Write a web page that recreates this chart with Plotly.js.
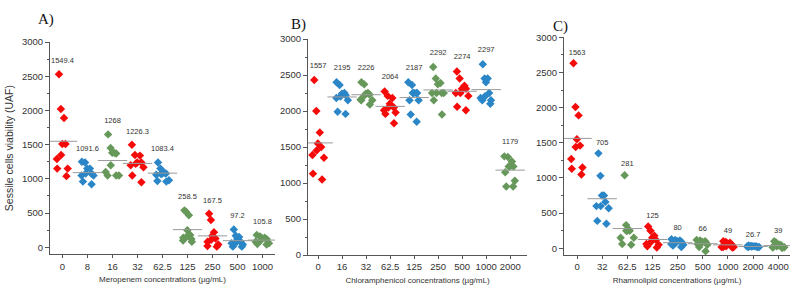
<!DOCTYPE html>
<html><head><meta charset="utf-8">
<script src="https://cdn.plot.ly/plotly-3.0.1.min.js"></script>
<style>html,body{margin:0;padding:0;background:#fff}#chart{width:798px;height:289px}</style>
</head><body><div id="chart"></div>
<script>
// ---- Panel A: Meropenem ----
const meroCats = ["0","8","16","32","62.5","125","250","500","1000"];
const meroMeans = [1549.4,1091.6,1268,1226.3,1083.4,258.5,167.5,97.2,105.8];
const meroLabels = ["1549.4","1091.6","1268","1226.3","1083.4","258.5","167.5","97.2","105.8"];
const meroValues = [
  [2530,2020,1890,1510,1510,1350,1290,1150,1150,1040],
  [1250,1240,1150,1150,1080,1080,1050,1050,960,920],
  [1650,1450,1380,1370,1380,1200,1100,1050,1050,1050],
  [1500,1350,1340,1240,1240,1220,1200,1170,1050,950],
  [1240,1150,1090,1080,1080,1070,1060,980,970,960],
  [540,520,470,250,180,150,140,120,100,80],
  [490,400,220,170,130,110,80,40,20,10],
  [260,170,150,120,80,70,60,40,10,10],
  [180,160,140,130,120,100,80,60,50,40]
];
// ---- Panel B: Chloramphenicol ----
const chloCats = ["0","16","32","62.5","125","250","500","1000","2000"];
const chloMeans = [1557,2195,2226,2064,2187,2292,2274,2297,1179];
const chloLabels = ["1557","2195","2226","2064","2187","2292","2274","2297","1179"];
const chloValues = [
  [2430,2000,1700,1550,1500,1450,1390,1350,1130,1050],
  [2400,2360,2250,2240,2220,2200,2180,2150,1990,1960],
  [2400,2370,2250,2240,2230,2220,2160,2150,2150,2090],
  [2270,2210,2180,2100,2050,2050,2010,1980,1960,1830],
  [2400,2360,2250,2250,2250,2250,2150,2150,1950,1850],
  [2610,2450,2390,2370,2250,2250,2250,2250,2150,1950],
  [2550,2450,2350,2310,2310,2250,2250,2210,2060,2010],
  [2650,2450,2450,2400,2250,2200,2180,2150,2150,2100],
  [1370,1360,1300,1230,1230,1230,1150,1030,950,950]
];
// ---- Panel C: Rhamnolipid ----
const rhamCats = ["0","32","62.5","125","250","500","1000","2000","4000"];
const rhamMeans = [1563,705,281,125,80,66,49,26.7,39];
const rhamLabels = ["1563","705","281","125","80","66","49","26.7","39"];
const rhamValues = [
  [2630,2010,1890,1550,1460,1440,1270,1150,1130,1050],
  [1350,1030,750,750,660,600,600,570,390,350],
  [1040,330,270,250,250,250,150,150,60,50],
  [310,250,180,150,120,90,60,50,30,10],
  [130,120,110,100,90,80,60,50,40,20],
  [120,110,100,90,80,70,60,50,20,-40],
  [100,90,80,70,50,30,20,20,20,10],
  [40,35,30,30,25,25,25,20,20,17],
  [100,80,50,40,40,30,20,15,10,5]
];
const groupColors = ["#f50a0a","#2a86c6","#66985a"];

const FONT = "Liberation Sans, Arial, sans-serif";
const traces = [];
function addPanel(cats, values, means, labels, xa, ya, gap) {
  // mean lines
  traces.push({type:'scatter', mode:'markers', x:cats, y:means, xaxis:xa, yaxis:ya,
    marker:{symbol:'line-ew', size:21, color:'#999', line:{color:'#9a9a9a', width:1}},
    hoverinfo:'skip', showlegend:false});
  cats.forEach((c, i) => {
    const vals = values[i];
    traces.push({type:'box', x:vals.map(() => c), y:vals, xaxis:xa, yaxis:ya,
      boxpoints:'all', jitter:1, pointpos:0,
      fillcolor:'rgba(0,0,0,0)', line:{width:0, color:'rgba(0,0,0,0)'}, whiskerwidth:0,
      marker:{symbol:'diamond', size:6.5, color:groupColors[i % 3]},
      hoverinfo:'skip', showlegend:false});
  });
  traces.push({type:'scatter', mode:'text', x:cats,
    y:values.map(v => Math.max(...v) + gap), text:labels, xaxis:xa, yaxis:ya,
    textposition:'middle center', textfont:{family:FONT, size:7.5, color:'#333'},
    hoverinfo:'skip', showlegend:false, cliponaxis:false});
}
addPanel(meroCats, meroValues, meroMeans, meroLabels, 'x', 'y', 190);
addPanel(chloCats, chloValues, chloMeans, chloLabels, 'x2', 'y2', 200);
addPanel(rhamCats, rhamValues, rhamMeans, rhamLabels, 'x3', 'y3', 150);

const W = 798, H = 289;
const px = (a, b) => [a / W, b / W];
const py = (top, bottom) => [1 - bottom / H, 1 - top / H];

function yAxis(domain, range, anchor, title) {
  const ax = {domain:domain, range:range, anchor:anchor, showgrid:false, zeroline:false,
    showline:true, linecolor:'#555', linewidth:1, ticks:'outside', ticklen:4, tickcolor:'#555',
    tickfont:{family:FONT, size:9.5, color:'#333'}, tick0:0, dtick:500,
    minor:{ticks:'outside', ticklen:2, dtick:250, tick0:0, tickcolor:'#555'}};
  if (title) ax.title = {text:title, font:{family:FONT, size:10.5, color:'#333'}, standoff:6};
  return ax;
}
function xAxis(domain, range, anchor, cats, title) {
  return {domain:domain, range:range, anchor:anchor, type:'category', categoryorder:'array',
    categoryarray:cats, showgrid:false, zeroline:false, showline:true, linecolor:'#555',
    linewidth:1, ticks:'outside', ticklen:3, tickcolor:'#555',
    tickfont:{family:FONT, size:9.5, color:'#333'},
    title:{text:title, font:{family:FONT, size:8, color:'#333'}, standoff:5}};
}

const layout = {
  width:W, height:H, margin:{l:0, r:0, t:0, b:0}, paper_bgcolor:'#fff', plot_bgcolor:'#fff',
  boxmode:'overlay', boxgap:0.05, showlegend:false,
  xaxis: xAxis(px(50, 275), [-0.5, 8.5], 'y', meroCats, 'Meropenem concentrations (µg/mL)'),
  yaxis: yAxis(py(42, 254.3), [-102, 3000], 'x', 'Sessile cells viability (UAF)'),
  xaxis2: xAxis(px(308, 527), [-0.42, 8.7], 'y2', chloCats, 'Chloramphenicol concentrations (µg/mL)'),
  yaxis2: yAxis(py(39, 255), [0, 3000], 'x2', null),
  xaxis3: xAxis(px(564, 790), [-0.52, 8.47], 'y3', rhamCats, 'Rhamnolipid concentrations (µg/mL)'),
  yaxis3: yAxis(py(37.3, 255), [-95, 3000], 'x3', null),
  annotations: [
    {text:'A)', x:36/W, y:1 - 9/H, xref:'paper', yref:'paper', showarrow:false,
     font:{family:'Liberation Serif, Times New Roman, serif', size:15, color:'#111'}},
    {text:'B)', x:298/W, y:1 - 14/H, xref:'paper', yref:'paper', showarrow:false,
     font:{family:'Liberation Serif, Times New Roman, serif', size:15, color:'#111'}},
    {text:'C)', x:570/W, y:1 - 16/H, xref:'paper', yref:'paper', showarrow:false,
     font:{family:'Liberation Serif, Times New Roman, serif', size:15, color:'#111'}}
  ]
};
Plotly.newPlot('chart', traces, layout, {staticPlot:true, displayModeBar:false});
</script></body></html>
